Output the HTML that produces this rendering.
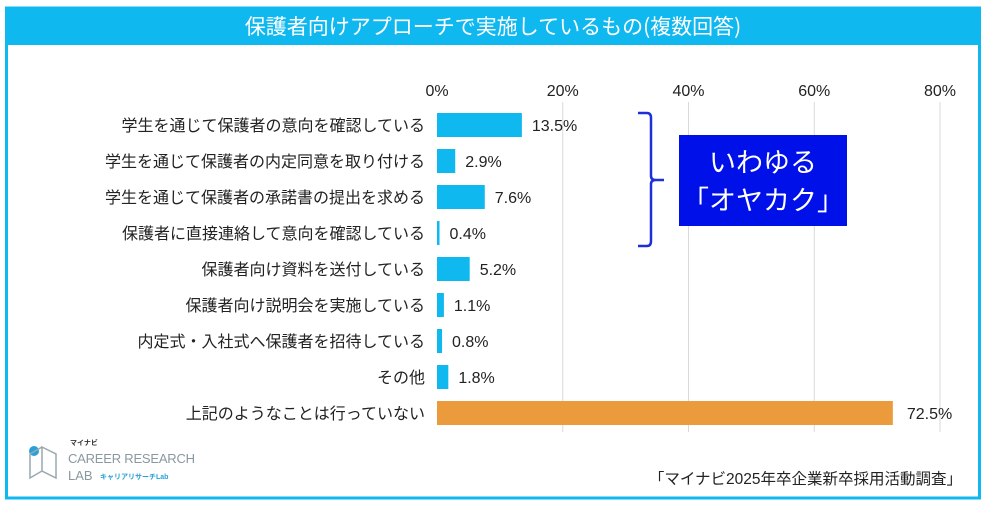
<!DOCTYPE html>
<html><head><meta charset="utf-8"><style>
body{margin:0;width:986px;height:510px;background:#fff;overflow:hidden;font-family:"Liberation Sans","Noto Sans CJK JP",sans-serif}
</style></head><body>
<svg width="986" height="510" style="position:absolute;left:0;top:0">
<rect x="6.5" y="8" width="973" height="490" fill="#fff" stroke="#10b8f0" stroke-width="3"/>
<rect x="6" y="7" width="974" height="38" fill="#10b8f0"/>
<text x="493" y="34" text-anchor="middle" font-size="21" fill="#fff" font-family="Noto Sans CJK JP,sans-serif">保護者向けアプローチで実施しているもの(複数回答)</text>
<g id="grid"></g>
<g id="bars"></g>
<path d="M638 113 H647 Q651 113 651 118 V176 Q651 180 656 180 H664 M656 180 Q651 180 651 184 V241 Q651 246 647 246 H638" fill="none" stroke="#1c2fd8" stroke-width="2.5"/>
<rect x="679" y="135" width="168" height="91" fill="#0010e8"/>
<text x="763" y="172" text-anchor="middle" font-size="27" fill="#fff" font-family="Noto Sans CJK JP,sans-serif">いわゆる</text>
<text x="763" y="210" text-anchor="middle" font-size="27" fill="#fff" font-family="Noto Sans CJK JP,sans-serif">「オヤカク」</text>
<g>
<circle cx="34" cy="451" r="5" fill="#2aa0d8"/>
<path d="M42 447 L56 454 V478 L42 471 Z M42 447 L30 454 V478 L42 471" fill="none" stroke="#9aa8b0" stroke-width="1.5"/>
<text x="70" y="445" font-size="7" fill="#333" font-weight="bold">マイナビ</text>
<text x="68" y="463" font-size="13" fill="#8a98a0" textLength="127">CAREER RESEARCH</text>
<text x="68" y="480" font-size="13" fill="#8a98a0">LAB</text>
<text x="100" y="479" font-size="7" fill="#2aa0d8" font-weight="bold">キャリアリサーチLab</text>
</g>
<text x="962" y="484" text-anchor="end" font-size="15.5" fill="#222">「マイナビ2025年卒企業新卒採用活動調査」</text>
</svg>
<script>
const categories=["学生を通じて保護者の意向を確認している","学生を通じて保護者の内定同意を取り付ける","学生を通じて保護者の承諾書の提出を求める","保護者に直接連絡して意向を確認している","保護者向け資料を送付している","保護者向け説明会を実施している","内定式・入社式へ保護者を招待している","その他","上記のようなことは行っていない"];
const values=[13.5,2.9,7.6,0.4,5.2,1.1,0.8,1.8,72.5];
const ticks=[0,20,40,60,80];
const NS="http://www.w3.org/2000/svg";
const x0=437,x1=940,maxV=80,top0=113,step=36,bh=24;
const xs=v=>x0+(x1-x0)*v/maxV;
const yb=i=>top0+i*step;
const grid=document.getElementById('grid'),bars=document.getElementById('bars');
function mk(tag,a,p){const e=document.createElementNS(NS,tag);for(const k in a)e.setAttribute(k,a[k]);p.appendChild(e);return e;}
ticks.forEach(t=>{
 if(t>0){const l=mk('line',{x1:xs(t),x2:xs(t),y1:102,y2:432,stroke:'#d9d9d9','stroke-width':1},grid);
 
 }
 const tx=mk('text',{x:xs(t),y:96,'text-anchor':'middle','font-size':16,fill:'#222'},grid);
 tx.textContent=t+'%';
 
 
});
categories.forEach((c,i)=>{
 const y=yb(i);
 const lab=mk('text',{x:425,y:y+bh/2+6,'text-anchor':'end','font-size':16,fill:'#222'},bars);
 lab.textContent=c;
 
 
 const r=mk('rect',{x:x0,y:y,width:Math.max(1.5,xs(values[i])-x0),height:bh,fill:i===8?'#eb9b3c':'#10b8f0'},bars);
 
 
 const v=mk('text',{x:xs(values[i])+(i===8?14:10),y:y+bh/2+6,'font-size':16,fill:'#222'},bars);
 v.textContent=values[i].toFixed(1)+'%';
 
 
});
</script>
</body></html>
